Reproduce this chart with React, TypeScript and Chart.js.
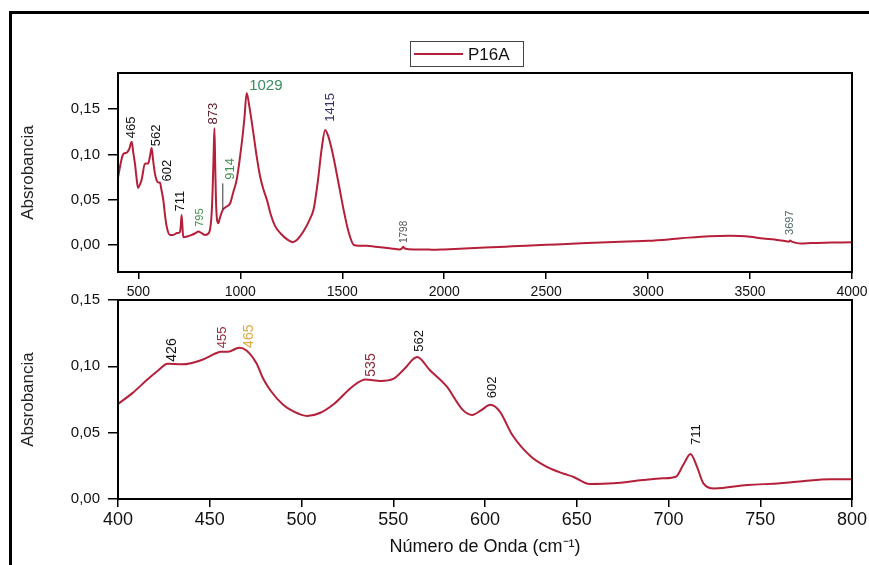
import React, { useEffect, useRef } from 'react';
import { Chart, registerables } from 'chart.js';
Chart.register(...registerables);

const SERIES_LABEL = 'P16A';
const Y_TITLE = 'Absrobancia';
const X_TITLE = 'Número de Onda (cm⁻¹)';

// Full spectrum (top panel)
const TOP_WAVENUMBER = [
  400, 413, 425, 443, 455, 467, 475, 483, 490, 498, 506, 516, 532, 548, 557, 565, 572, 581, 590, 598, 606, 612,
  622, 630, 639, 655, 670, 690, 703, 708, 712, 716, 720, 735, 762, 780, 794, 810, 827, 845, 851, 858, 864, 869,
  873, 877, 882, 892, 900, 914, 930, 950, 965, 982, 1007, 1020, 1031, 1045, 1064, 1080, 1097, 1115, 1130, 1150,
  1170, 1200, 1230, 1257, 1280, 1310, 1340, 1360, 1380, 1400, 1416, 1430, 1450, 1470, 1491, 1510, 1530, 1556,
  1580, 1620, 1660, 1700, 1740, 1780, 1792, 1798, 1806, 1850, 1900, 1950, 2000, 2050, 2100, 2200, 2300, 2400,
  2500, 2600, 2700, 2800, 2900, 3000, 3100, 3200, 3300, 3400, 3450, 3500, 3565, 3620, 3670, 3690, 3697, 3705,
  3725, 3750, 3800, 3900, 4000,
];
const TOP_ABSORBANCE = [
  0.074, 0.090, 0.100, 0.102, 0.106, 0.114, 0.102, 0.090, 0.076, 0.063, 0.066, 0.072, 0.0896, 0.090, 0.098, 0.107,
  0.094, 0.079, 0.071, 0.069, 0.069, 0.062, 0.050, 0.034, 0.020, 0.011, 0.011, 0.013, 0.014, 0.021, 0.033, 0.020,
  0.0085, 0.009, 0.011, 0.013, 0.0147, 0.013, 0.011, 0.013, 0.0166, 0.030, 0.060, 0.100, 0.129, 0.085, 0.040,
  0.024, 0.030, 0.0387, 0.042, 0.046, 0.058, 0.072, 0.1125, 0.140, 0.168, 0.152, 0.1235, 0.098, 0.0756, 0.060,
  0.050, 0.033, 0.021, 0.012, 0.006, 0.003, 0.006, 0.015, 0.028, 0.040, 0.070, 0.108, 0.127, 0.121, 0.104, 0.082,
  0.057, 0.035, 0.015, 0.000, -0.001, -0.001, -0.002, -0.003, -0.004, -0.005, -0.004, -0.002, -0.004, -0.005,
  -0.005, -0.0055, -0.005, -0.0045, -0.004, -0.003, -0.002, -0.001, 0.000, 0.001, 0.002, 0.003, 0.0038, 0.0045,
  0.006, 0.008, 0.0095, 0.010, 0.0098, 0.009, 0.007, 0.006, 0.0042, 0.0035, 0.0048, 0.0035, 0.0022, 0.0015,
  0.002, 0.0025, 0.003,
];

// Zoomed region (bottom panel)
const BOTTOM_WAVENUMBER = [
  400, 408, 416, 422, 427, 435, 446, 452, 456, 460, 466, 470, 475.6, 479, 483, 490, 495.6, 503, 510, 518, 528,
  535, 543, 550, 556, 563, 570, 579, 588, 593, 598, 603, 608, 615, 625, 634, 643, 648, 657, 670, 686, 697, 704,
  708, 712, 715.5, 719, 725, 743, 761, 774, 788, 800,
];
const BOTTOM_ABSORBANCE = [
  0.0716, 0.080, 0.090, 0.097, 0.102, 0.1015, 0.105, 0.109, 0.111, 0.111, 0.114, 0.112, 0.102, 0.091, 0.082,
  0.071, 0.066, 0.0626, 0.0648, 0.072, 0.085, 0.090, 0.089, 0.0905, 0.098, 0.107, 0.097, 0.085, 0.067, 0.0634,
  0.067, 0.071, 0.066, 0.048, 0.032, 0.024, 0.019, 0.0168, 0.0113, 0.0118, 0.0143, 0.0156, 0.0168, 0.0256, 0.034,
  0.0244, 0.0118, 0.008, 0.0106, 0.0118, 0.0136, 0.0149, 0.0149,
];

const TOP_X_TICKS = [500, 1000, 1500, 2000, 2500, 3000, 3500, 4000];
const TOP_Y_TICKS = [0, 0.05, 0.1, 0.15];
const BOTTOM_X_TICKS = [400, 450, 500, 550, 600, 650, 700, 750, 800];
const BOTTOM_Y_TICKS = [0, 0.05, 0.1, 0.15];

// Peak annotations: text, anchor wavenumber, anchor absorbance
const TOP_PEAK_TEXT = ['465', '562', '602', '711', '795', '873', '914', '1029', '1415', '1798', '3697'];
const TOP_PEAK_X = [464, 590, 643, 704, 801, 868, 952, 1125, 1444, 1802, 3697];
const TOP_PEAK_Y = [0.118, 0.109, 0.070, 0.037, 0.020, 0.133, 0.072, 0.1756, 0.136, 0.002, 0.011];
const TOP_PEAK_COLOR = ['#111', '#111', '#111', '#111', '#3f9050', '#5a1a28', '#3f9050', '#3a8a62', '#3b2b6b', '#555', '#4f6868'];
const TOP_PEAK_SIZE = [13, 13, 13, 13, 11, 13, 13, 15, 13, 10, 11];
const TOP_PEAK_VERTICAL = [true, true, true, true, true, true, true, false, true, true, true];
const TOP_LEADER_X = [914];
const TOP_LEADER_FROM = [0.039];
const TOP_LEADER_TO = [0.068];

const BOTTOM_PEAK_TEXT = ['426', '455', '465', '535', '562', '602', '711'];
const BOTTOM_PEAK_X = [429.3, 457, 471.3, 537.9, 564.1, 604.2, 715];
const BOTTOM_PEAK_Y = [0.1035, 0.1136, 0.1139, 0.0922, 0.111, 0.076, 0.0407];
const BOTTOM_PEAK_COLOR = ['#111', '#9a2a3a', '#e0a848', '#8a2a38', '#111', '#111', '#111'];
const BOTTOM_PEAK_SIZE = [14, 13, 14, 14, 13, 13, 13];

const LINE_COLOR = '#b51f3a';
const FONT = '"Liberation Sans", Arial, Helvetica, sans-serif';

type Peak = { text: string; x: number; y: number; color: string; size: number; vertical: boolean };

const boxPlugin = {
  id: 'box',
  afterDraw(chart: any) {
    const { ctx, chartArea: a } = chart;
    ctx.save();
    ctx.strokeStyle = '#000';
    ctx.lineWidth = 2;
    ctx.strokeRect(a.left, a.top, a.right - a.left, a.bottom - a.top);
    ctx.restore();
  },
};

function peakPlugin(peaks: Peak[], leaders: { x: number; y0: number; y1: number }[]) {
  return {
    id: 'peaks',
    afterDatasetsDraw(chart: any) {
      const xs = chart.scales.x;
      const ys = chart.scales.y;
      const ctx = chart.ctx;
      leaders.forEach((l) => {
        const px = xs.getPixelForValue(l.x);
        ctx.save();
        ctx.strokeStyle = '#333';
        ctx.lineWidth = 1;
        ctx.beginPath();
        ctx.moveTo(px, ys.getPixelForValue(l.y0));
        ctx.lineTo(px, ys.getPixelForValue(l.y1));
        ctx.stroke();
        ctx.restore();
      });
      peaks.forEach((p) => {
        const px = xs.getPixelForValue(p.x);
        const py = ys.getPixelForValue(p.y);
        ctx.save();
        ctx.translate(px, py);
        if (p.vertical) ctx.rotate(-Math.PI / 2);
        ctx.font = `${p.size}px ${FONT}`;
        ctx.fillStyle = p.color;
        ctx.textAlign = p.vertical ? 'left' : 'center';
        ctx.textBaseline = 'middle';
        ctx.fillText(p.text, 0, 0);
        ctx.restore();
      });
    },
  };
}

const legendPlugin = {
  id: 'boxLegend',
  afterDraw(chart: any) {
    const ctx = chart.ctx;
    const ds = chart.data.datasets[0];
    ctx.save();
    ctx.fillStyle = '#fff';
    ctx.fillRect(410.5, 41.5, 113, 25);
    ctx.strokeStyle = '#444';
    ctx.lineWidth = 1;
    ctx.strokeRect(410.5, 41.5, 113, 25);
    ctx.strokeStyle = ds.borderColor;
    ctx.lineWidth = 2;
    ctx.beginPath();
    ctx.moveTo(414, 54);
    ctx.lineTo(463, 54);
    ctx.stroke();
    ctx.fillStyle = '#111';
    ctx.font = `17px ${FONT}`;
    ctx.textAlign = 'left';
    ctx.textBaseline = 'middle';
    ctx.fillText(ds.label, 468, 55);
    ctx.restore();
  },
};

const fmtComma = (v: number) => v.toFixed(2).replace('.', ',');

function makeChart(
  canvas: HTMLCanvasElement,
  xs: number[],
  ys: number[],
  cfg: {
    xMin: number; xMax: number; yMin: number; yMax: number;
    xTicks: number[]; yTicks: number[];
    padTop: number; padBottom: number; xHeight: number;
    xFont: number; xPad: number; xTickLen: number;
    showXTitle: boolean;
    plugins: any[];
  }
) {
  const data = xs.map((x, i) => ({ x, y: ys[i] }));
  return new Chart(canvas, {
    type: 'line',
    data: {
      datasets: [
        {
          label: SERIES_LABEL,
          data,
          borderColor: LINE_COLOR,
          borderWidth: 2,
          pointRadius: 0,
          fill: false,
          cubicInterpolationMode: 'monotone',
        } as any,
      ],
    },
    options: {
      responsive: false,
      animation: false,
      devicePixelRatio: 1,
      events: [],
      layout: { padding: { left: 0, right: 17, top: cfg.padTop, bottom: cfg.padBottom } },
      plugins: { legend: { display: false }, tooltip: { enabled: false }, title: { display: false } },
      scales: {
        x: {
          type: 'linear',
          min: cfg.xMin,
          max: cfg.xMax,
          afterBuildTicks: (s: any) => { s.ticks = cfg.xTicks.map((v) => ({ value: v })); },
          afterFit: (s: any) => { s.height = cfg.xHeight; s.paddingLeft = 0; s.paddingRight = 0; },
          ticks: {
            color: '#111',
            font: { family: FONT, size: cfg.xFont },
            padding: cfg.xPad,
            maxRotation: 0,
            autoSkip: false,
            callback: (v: any) => String(v),
          },
          grid: { display: true, drawOnChartArea: false, drawTicks: true, tickLength: cfg.xTickLen, color: '#000', lineWidth: 1.5 },
          border: { display: true, color: '#000', width: 2 },
          title: {
            display: cfg.showXTitle,
            text: X_TITLE,
            color: '#111',
            font: { family: FONT, size: 18 },
            padding: { top: 0, bottom: 7 },
          },
        },
        y: {
          type: 'linear',
          min: cfg.yMin,
          max: cfg.yMax,
          afterBuildTicks: (s: any) => { s.ticks = cfg.yTicks.map((v) => ({ value: v })); },
          afterFit: (s: any) => { s.width = 118; s.paddingTop = 0; s.paddingBottom = 0; },
          ticks: {
            color: '#111',
            font: { family: FONT, size: 15 },
            padding: 8,
            callback: (v: any) => fmtComma(Number(v)),
          },
          grid: { display: true, drawOnChartArea: false, drawTicks: true, tickLength: 10, color: '#000', lineWidth: 1.5 },
          border: { display: true, color: '#000', width: 2 },
          title: {
            display: true,
            text: Y_TITLE,
            color: '#222',
            font: { family: FONT, size: 17 },
            padding: { top: 18, bottom: 0 },
          },
        },
      },
    } as any,
    plugins: [boxPlugin, ...cfg.plugins],
  });
}

export default function App() {
  const topRef = useRef<HTMLCanvasElement>(null);
  const bottomRef = useRef<HTMLCanvasElement>(null);

  useEffect(() => {
    const topPeaks: Peak[] = TOP_PEAK_TEXT.map((t, i) => ({
      text: t, x: TOP_PEAK_X[i], y: TOP_PEAK_Y[i], color: TOP_PEAK_COLOR[i], size: TOP_PEAK_SIZE[i], vertical: TOP_PEAK_VERTICAL[i],
    }));
    const topLeaders = TOP_LEADER_X.map((x, i) => ({ x, y0: TOP_LEADER_FROM[i], y1: TOP_LEADER_TO[i] }));
    const bottomPeaks: Peak[] = BOTTOM_PEAK_TEXT.map((t, i) => ({
      text: t, x: BOTTOM_PEAK_X[i], y: BOTTOM_PEAK_Y[i], color: BOTTOM_PEAK_COLOR[i], size: BOTTOM_PEAK_SIZE[i], vertical: true,
    }));

    const top = makeChart(topRef.current!, TOP_WAVENUMBER, TOP_ABSORBANCE, {
      xMin: 400, xMax: 4000, yMin: -0.03, yMax: 0.19,
      xTicks: TOP_X_TICKS, yTicks: TOP_Y_TICKS,
      padTop: 73, padBottom: 263, xHeight: 30,
      xFont: 14, xPad: 5, xTickLen: 7,
      showXTitle: false,
      plugins: [peakPlugin(topPeaks, topLeaders), legendPlugin],
    });
    const bottom = makeChart(bottomRef.current!, BOTTOM_WAVENUMBER, BOTTOM_ABSORBANCE, {
      xMin: 400, xMax: 800, yMin: 0, yMax: 0.15,
      xTicks: BOTTOM_X_TICKS, yTicks: BOTTOM_Y_TICKS,
      padTop: 300, padBottom: 0, xHeight: 66,
      xFont: 18, xPad: 2, xTickLen: 8,
      showXTitle: true,
      plugins: [peakPlugin(bottomPeaks, [])],
    });
    return () => {
      top.destroy();
      bottom.destroy();
    };
  }, []);

  const canvasStyle: React.CSSProperties = { position: 'absolute', left: 0, top: 0, width: 869, height: 565 };
  return (
    <div style={{ position: 'fixed', left: 0, top: 0, width: 869, height: 565, background: '#fff', overflow: 'hidden' }}>
      <div style={{ position: 'absolute', left: 9, top: 11, width: 1000, height: 1000, border: '3px solid #000', boxSizing: 'border-box' }} />
      <canvas ref={topRef} width={869} height={565} style={canvasStyle} />
      <canvas ref={bottomRef} width={869} height={565} style={canvasStyle} />
    </div>
  );
}
